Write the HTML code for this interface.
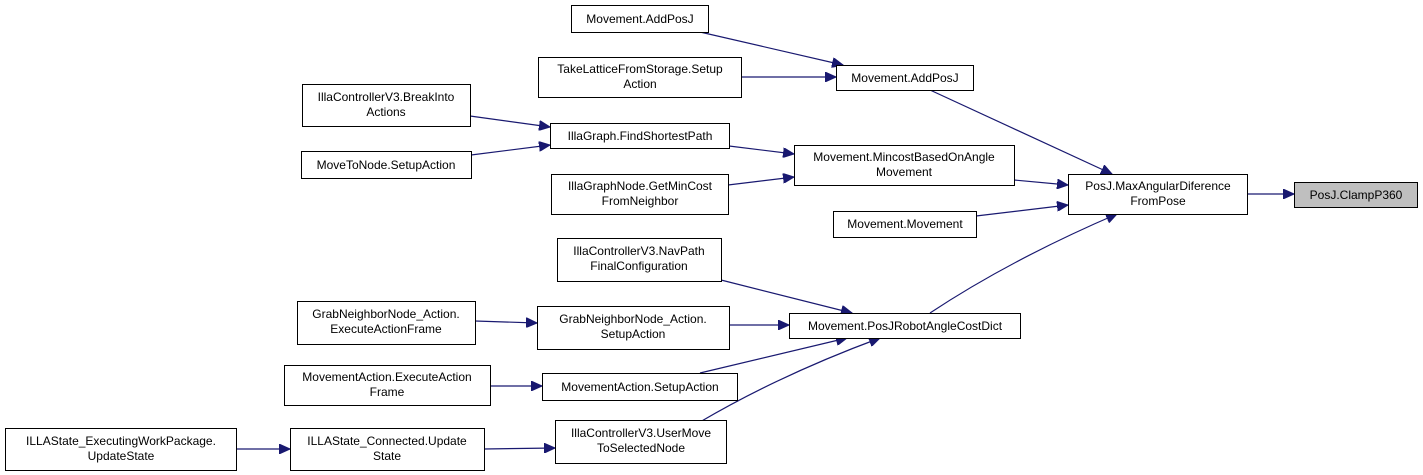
<!DOCTYPE html>
<html><head><meta charset="utf-8"><style>
html,body{margin:0;padding:0;background:#fff;}
svg{display:block;}
text{font-family:"Liberation Sans",Arial,sans-serif;font-size:12px;fill:#000;}
</style></head><body>
<svg width="1423" height="475" viewBox="0 0 1423 475" xmlns="http://www.w3.org/2000/svg">
<defs>
<marker id="a" markerWidth="12" markerHeight="10" refX="11" refY="5" orient="auto" markerUnits="userSpaceOnUse">
<path d="M0,0 L11,5 L0,10 Z" fill="#191970" stroke="#191970"/>
</marker>
</defs>
<g stroke="#191970" stroke-width="1.2" fill="none" marker-end="url(#a)">
<line x1="700" y1="32" x2="843" y2="65"/>
<line x1="741" y1="77" x2="836" y2="77"/>
<path d="M930,90 L1112,174"/>
<line x1="470" y1="116" x2="550" y2="127"/>
<line x1="471" y1="155" x2="550" y2="145"/>
<line x1="729" y1="146" x2="794" y2="154"/>
<line x1="728" y1="185" x2="794" y2="177"/>
<line x1="1014" y1="180" x2="1068" y2="185"/>
<line x1="976" y1="216" x2="1068" y2="205"/>
<path d="M930,313 Q1010,260 1117,214"/>
<line x1="1247" y1="194" x2="1294" y2="194"/>
<line x1="721" y1="280" x2="852" y2="313"/>
<line x1="475" y1="321" x2="537" y2="323"/>
<line x1="729" y1="325" x2="789" y2="325"/>
<line x1="700" y1="373" x2="847" y2="338"/>
<path d="M700,422 Q780,375 880,338"/>
<line x1="490" y1="386" x2="542" y2="386"/>
<line x1="236" y1="449" x2="290" y2="449"/>
<line x1="484" y1="449" x2="555" y2="448"/>
</g>
<g stroke="#000" stroke-width="1" fill="#fff">
<rect x="571.5" y="5.5" width="137" height="27"/>
<rect x="538.5" y="57.5" width="203" height="40"/>
<rect x="836.5" y="65.5" width="137" height="25"/>
<rect x="302.5" y="84.5" width="168" height="42"/>
<rect x="550.5" y="123.5" width="179" height="25"/>
<rect x="301.5" y="151.5" width="170" height="27"/>
<rect x="794.5" y="145.5" width="220" height="40"/>
<rect x="551.5" y="174.5" width="177" height="40"/>
<rect x="833.5" y="211.5" width="143" height="26"/>
<rect x="1068.5" y="174.5" width="179" height="40"/>
<rect x="1294.5" y="182.5" width="123" height="25" fill="#bfbfbf"/>
<rect x="557.5" y="238.5" width="164" height="43"/>
<rect x="297.5" y="301.5" width="178" height="43"/>
<rect x="537.5" y="306.5" width="192" height="43"/>
<rect x="789.5" y="313.5" width="231" height="25"/>
<rect x="284.5" y="365.5" width="206" height="40"/>
<rect x="542.5" y="373.5" width="195" height="27"/>
<rect x="5.5" y="428.5" width="231" height="42"/>
<rect x="290.5" y="428.5" width="194" height="42"/>
<rect x="555.5" y="420.5" width="171" height="43"/>
</g>
<g text-anchor="middle">
<text x="640" y="23">Movement.AddPosJ</text>
<text x="640" y="73">TakeLatticeFromStorage.Setup</text><text x="640" y="88">Action</text>
<text x="905" y="82">Movement.AddPosJ</text>
<text x="386" y="101">IllaControllerV3.BreakInto</text><text x="386" y="116">Actions</text>
<text x="640" y="140">IllaGraph.FindShortestPath</text>
<text x="386" y="169">MoveToNode.SetupAction</text>
<text x="904" y="161">Movement.MincostBasedOnAngle</text><text x="904" y="176">Movement</text>
<text x="640" y="190">IllaGraphNode.GetMinCost</text><text x="640" y="205">FromNeighbor</text>
<text x="905" y="228">Movement.Movement</text>
<text x="1158" y="190">PosJ.MaxAngularDiference</text><text x="1158" y="205">FromPose</text>
<text x="1356" y="199">PosJ.ClampP360</text>
<text x="639" y="255">IllaControllerV3.NavPath</text><text x="639" y="270">FinalConfiguration</text>
<text x="386" y="318">GrabNeighborNode_Action.</text><text x="386" y="333">ExecuteActionFrame</text>
<text x="633" y="323">GrabNeighborNode_Action.</text><text x="633" y="338">SetupAction</text>
<text x="905" y="330">Movement.PosJRobotAngleCostDict</text>
<text x="387" y="381">MovementAction.ExecuteAction</text><text x="387" y="396">Frame</text>
<text x="640" y="391">MovementAction.SetupAction</text>
<text x="121" y="445">ILLAState_ExecutingWorkPackage.</text><text x="121" y="460">UpdateState</text>
<text x="387" y="445">ILLAState_Connected.Update</text><text x="387" y="460">State</text>
<text x="641" y="437">IllaControllerV3.UserMove</text><text x="641" y="452">ToSelectedNode</text>
</g>
</svg>
</body></html>
